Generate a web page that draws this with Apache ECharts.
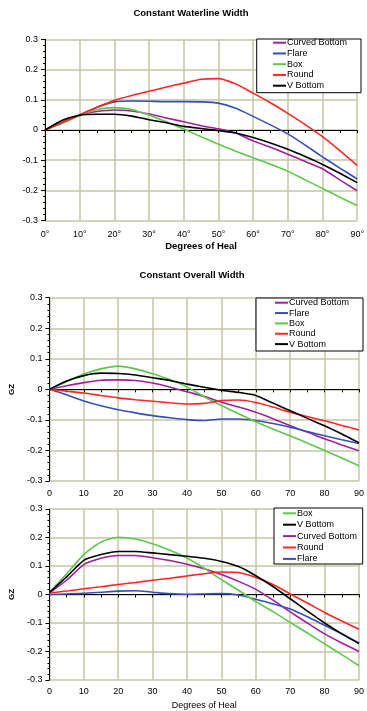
<!DOCTYPE html>
<html><head><meta charset="utf-8">
<script src="https://cdn.jsdelivr.net/npm/echarts@6/dist/echarts.min.js"></script>
<style>html,body{margin:0;padding:0;background:#fff}#c{width:367px;height:711px}</style>
</head><body><div id="c"></div>
<script>
// ---- data ----
const degrees = [0,5,10,15,20,25,30,35,40,45,50,55,60,65,70,75,80,85,90];
const xTickLabelsDeg = ['0°','10°','20°','30°','40°','50°','60°','70°','80°','90°'];
const xTickLabels = ['0','10','20','30','40','50','60','70','80','90'];
const yTickLabels = ['-0.3','-0.2','-0.1','0','0.1','0.2','0.3'];

const titles = ['Constant Waterline Width','Constant Overall Width'];
const seriesNames = ['Curved Bottom','Flare','Box','Round','V Bottom'];
const legendOrder12 = ['Curved Bottom','Flare','Box','Round','V Bottom'];
const legendOrder3 = ['Box','V Bottom','Curved Bottom','Round','Flare'];

// Chart 1: Constant Waterline Width
const cwCurved = [0,0.025,0.05,0.061,0.066,0.063,0.053,0.04,0.027,0.014,0.004,-0.01,-0.036,-0.057,-0.08,-0.104,-0.128,-0.165,-0.201];
const cwFlare  = [0,0.025,0.05,0.075,0.093,0.096,0.095,0.094,0.094,0.093,0.089,0.072,0.045,0.017,-0.013,-0.05,-0.089,-0.126,-0.162];
const cwBox    = [0,0.022,0.048,0.068,0.074,0.068,0.05,0.027,0.003,-0.022,-0.047,-0.07,-0.092,-0.113,-0.136,-0.165,-0.193,-0.222,-0.25];
const cwRound  = [0,0.025,0.05,0.075,0.098,0.114,0.128,0.142,0.155,0.168,0.17,0.152,0.122,0.09,0.055,0.018,-0.022,-0.068,-0.117];
const cwV      = [0,0.032,0.049,0.052,0.052,0.046,0.034,0.024,0.012,0.005,-0.002,-0.01,-0.025,-0.043,-0.064,-0.088,-0.114,-0.143,-0.174];

// Chart 2: Constant Overall Width
const owCurved = [0,0.012,0.022,0.03,0.031,0.029,0.021,0.008,-0.008,-0.023,-0.042,-0.058,-0.075,-0.096,-0.119,-0.14,-0.162,-0.182,-0.201];
const owFlare  = [0,-0.018,-0.038,-0.054,-0.067,-0.077,-0.086,-0.093,-0.099,-0.102,-0.097,-0.097,-0.102,-0.112,-0.124,-0.138,-0.152,-0.165,-0.177];
const owBox    = [0,0.025,0.05,0.067,0.076,0.067,0.051,0.032,0.008,-0.024,-0.053,-0.08,-0.106,-0.13,-0.152,-0.176,-0.2,-0.225,-0.25];
const owRound  = [0,-0.006,-0.012,-0.02,-0.028,-0.034,-0.039,-0.044,-0.048,-0.046,-0.037,-0.035,-0.043,-0.058,-0.075,-0.089,-0.103,-0.118,-0.133];
const owV      = [0,0.027,0.045,0.053,0.052,0.047,0.038,0.029,0.017,0.007,-0.003,-0.01,-0.02,-0.045,-0.07,-0.095,-0.119,-0.146,-0.175];

// Chart 3
const c3Box    = [0.007,0.073,0.14,0.184,0.201,0.195,0.178,0.155,0.128,0.092,0.052,0.015,-0.025,-0.06,-0.098,-0.135,-0.173,-0.211,-0.25];
const c3V      = [0.007,0.062,0.12,0.14,0.151,0.151,0.146,0.14,0.134,0.127,0.116,0.098,0.066,0.028,-0.015,-0.058,-0.1,-0.138,-0.172];
const c3Curved = [0.005,0.05,0.105,0.127,0.137,0.137,0.129,0.119,0.106,0.09,0.07,0.046,0.018,-0.02,-0.061,-0.1,-0.138,-0.17,-0.2];
const c3Round  = [0.005,0.012,0.02,0.027,0.035,0.042,0.05,0.057,0.065,0.073,0.079,0.077,0.06,0.035,0.002,-0.03,-0.063,-0.093,-0.122];
const c3Flare  = [0,0.002,0.004,0.008,0.012,0.013,0.008,0.003,0.001,0.002,0.003,-0.002,-0.017,-0.033,-0.051,-0.078,-0.108,-0.138,-0.17];

// ---- styling ----
const colors = {'Curved Bottom':'#a0209c','Flare':'#3550b0','Box':'#5cc84a','Round':'#ff2626','V Bottom':'#000000'};
const FONT = 'Liberation Sans';
const GRIDC = '#c6c6a6';

const grids = [
  {left:45, top:39.3, width:316, height:181.4},
  {left:46.7, top:297.7, width:316.3, height:183.3},
  {left:48, top:509, width:314.7, height:171.7}
];

const chartData = [
  {'Curved Bottom':cwCurved,'Flare':cwFlare,'Box':cwBox,'Round':cwRound,'V Bottom':cwV},
  {'Curved Bottom':owCurved,'Flare':owFlare,'Box':owBox,'Round':owRound,'V Bottom':owV},
  {'Curved Bottom':c3Curved,'Flare':c3Flare,'Box':c3Box,'Round':c3Round,'V Bottom':c3V}
];

const xAxes = [], yAxes = [], series = [];
const labelMargins = [9, 8, 7.5];
grids.forEach((g, i) => {
  const labels = i === 0 ? xTickLabelsDeg : xTickLabels;
  // zero line axis with ticks
  xAxes.push({
    gridIndex:i, type:'value', min:0, max:90, interval:5, position:'top',
    axisLine:{show:true, onZero:true, lineStyle:{color:'#000', width:1}},
    axisTick:{show:true, inside:true, length:3, lineStyle:{color:'#000'}},
    axisLabel:{show:false}, splitLine:{show:false}
  });
  // bottom label axis
  const ax = {
    gridIndex:i, type:'value', min:0, max:90, interval:10, position:'bottom',
    axisLine:{show:false, onZero:false}, axisTick:{show:false},
    axisLabel:{show:true, margin:labelMargins[i], color:'#000', fontFamily:FONT, fontSize:9,
      formatter:(v)=>labels[Math.round(v/10)]},
    splitLine:{show:true, lineStyle:{color:GRIDC, width:1.5}}
  };
  if (i === 0) {
    ax.name = 'Degrees of Heal'; ax.nameLocation = 'middle'; ax.nameGap = 21;
    ax.nameTextStyle = {color:'#000', fontFamily:FONT, fontWeight:'bold', fontSize:9.5};
  } else if (i === 2) {
    ax.name = 'Degrees of Heal'; ax.nameLocation = 'middle'; ax.nameGap = 21;
    ax.nameTextStyle = {color:'#000', fontFamily:FONT, fontSize:9};
  }
  xAxes.push(ax);
  const ya = {
    gridIndex:i, type:'value', min:-0.3, max:0.3, interval:0.1,
    axisLine:{show:true, lineStyle:{color:'#000', width:1}},
    axisTick:{show:true, length:4, lineStyle:{color:'#000'}},
    minorTick:{show:true, splitNumber:5, length:2, lineStyle:{color:'#000'}},
    axisLabel:{margin:7, color:'#000', fontFamily:FONT, fontSize:9,
      formatter:(v)=>yTickLabels[Math.round((v+0.3)/0.1)]},
    splitLine:{show:true, lineStyle:{color:GRIDC, width:1.5}}
  };
  if (i > 0) {
    ya.name = 'GZ'; ya.nameLocation = 'middle'; ya.nameGap = 29;
    ya.nameTextStyle = {color:'#000', fontFamily:FONT, fontWeight:'bold', fontSize:8};
  }
  yAxes.push(ya);
  seriesNames.forEach(name => {
    series.push({
      type:'line', name, xAxisIndex:2*i, yAxisIndex:i, symbol:'none', smooth:0.2,
      data: degrees.map((d,k)=>[d, chartData[i][name][k]]),
      lineStyle:{color:colors[name], width:1.6}, itemStyle:{color:colors[name]},
      emphasis:{disabled:true}, silent:true, z:2
    });
  });
});

const legendBoxes = [
  {x:256.7, y:39, w:104.3, h:53.7, left:273, firstC:42.7, step:10.75, order:legendOrder12},
  {x:256, y:298, w:107, h:53, left:275, firstC:302.7, step:10.35, order:legendOrder12},
  {x:274, y:508, w:88.7, h:56, left:283, firstC:513.3, step:11.4, order:legendOrder3}
];

const legends = legendBoxes.map(b => ({
  orient:'vertical', left:b.left, top:b.firstC - b.step/2, padding:0,
  itemGap:0, itemWidth:13, itemHeight:2, icon:'rect', selectedMode:false, z:10,
  data:b.order,
  textStyle:{fontFamily:FONT, fontSize:9, color:'#000', lineHeight:b.step, padding:[0,0,0,-4]}
}));

const graphics = legendBoxes.map(b => ({
  type:'rect', z:3, shape:{x:b.x, y:b.y, width:b.w, height:b.h},
  style:{fill:'#fff', stroke:'#000', lineWidth:1}
}));

const titleOpts = [
  {text:titles[0], left:191, top:8},
  {text:titles[1], left:192, top:270}
].map(t => ({text:t.text, left:t.left, top:t.top, textAlign:'center', padding:0,
  textStyle:{fontFamily:FONT, fontWeight:'bold', fontSize:9.5, color:'#000'}}));

const chart = echarts.init(document.getElementById('c'), null, {renderer:'canvas'});
chart.setOption({
  animation:false,
  backgroundColor:'#fff',
  title:titleOpts,
  grid:grids,
  xAxis:xAxes,
  yAxis:yAxes,
  legend:legends,
  graphic:graphics,
  series
});
</script>
</body></html>
